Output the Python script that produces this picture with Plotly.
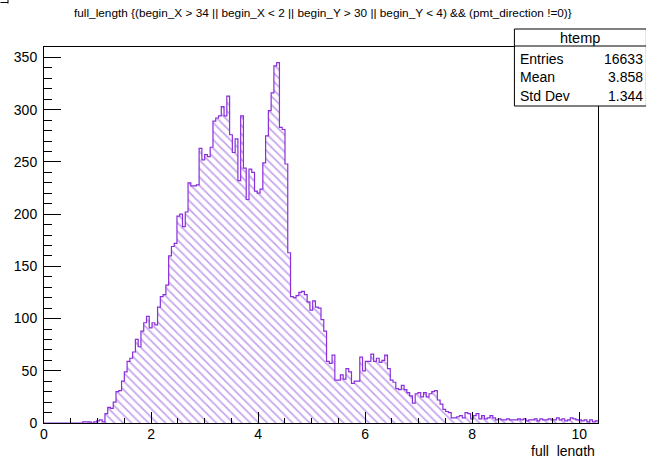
import numpy as np
import plotly.graph_objects as go

# ---- histogram definition (htemp: 200 bins over the full_length range) ----
x_min, x_max, n_bins = 0.0, 10.35, 200

counts = (
    [0] * 14
    + [1, 1, 1, 0, 1, 2, 3, 1]                                   # 14-21
    + [9, 15, 14, 20, 30, 31, 40, 49, 59, 62]                    # 22-31
    + [68, 80, 73, 88, 96, 102, 91, 96, 94, 111]                 # 32-41
    + [121, 123, 132, 160, 169, 172, 198, 200, 188, 202]         # 42-51
    + [230, 227, 227, 228, 263, 252, 257, 255, 264, 289]         # 52-61
    + [292, 294, 303, 294, 313, 276, 259, 272, 232, 294]         # 62-71
    + [244, 214, 243, 240, 222, 220, 224, 249, 275, 299]         # 72-81
    + [316, 342, 345, 283, 281, 248, 163, 121, 120, 122]         # 82-91
    + [125, 126, 123, 116, 108, 117, 111, 110, 99, 88]           # 92-101
    + [59, 57, 65, 41, 41, 46, 42, 52, 49, 38]                   # 102-111
    + [40, 40, 63, 50, 59, 59, 66, 59, 62, 58]                   # 112-121
    + [60, 65, 52, 41, 39, 33, 32, 36, 32, 29]                   # 122-131
    + [26, 19, 28, 29, 25, 29, 25, 28, 30, 31]                   # 132-141
    + [22, 18, 13, 11, 10, 5, 5, 6, 7, 5]                        # 142-151
    + [10, 9, 4, 7, 9, 4, 7, 4, 5, 7]                            # 152-161
    + [5, 3, 4, 3, 3, 4, 3, 3, 3, 4]                             # 162-171
    + [3, 4, 2, 3, 3, 4, 2, 4, 3, 3]                             # 172-181
    + [4, 3, 3, 5, 3, 4, 2, 3, 5, 4]                             # 182-191
    + [3, 3, 2, 3, 1, 3, 1, 2]                                   # 192-199
)

x_ticks = [0, 2, 4, 6, 8, 10]
y_range = [0, 360]

title_text = ("full_length {(begin_X > 34 || begin_X < 2 || begin_Y > 30 || "
              "begin_Y < 4) && (pmt_direction !=0)}")
x_title = "full_length"
stat_header = "htemp"
stat_names = ["Entries", "Mean", "Std Dev"]
stat_values = ["16633", "3.858", "1.344"]

# ---- styling ----
W, H = 646, 456
L, R, T, B = 43.5, 597.6, 47.0, 423.0
FONT = "Liberation Sans, Arial, Helvetica, sans-serif"
LINE = "#8a2fdc"
HATCH = "#8f4bdb"


def px(x):
    return (x - L) / (R - L)


def py(y):
    return (B - y) / (B - T)


edges = np.linspace(x_min, x_max, n_bins + 1)
step_y = list(counts) + [counts[-1]]

fig = go.Figure()
fig.add_trace(go.Scatter(
    x=edges, y=step_y, mode="lines",
    line=dict(shape="hv", color=LINE, width=1.2),
    fill="tozeroy", fillcolor="rgba(255,255,255,0)",
    fillpattern=dict(shape="\\", fgcolor=HATCH, bgcolor="rgba(255,255,255,0)",
                     size=6, solidity=0.3),
    hoverinfo="skip", showlegend=False,
))

axis_common = dict(
    showline=True, linecolor="black", linewidth=1, mirror=True,
    showgrid=False, zeroline=False, ticks="inside", tickcolor="black",
    tickwidth=1, tickfont=dict(family=FONT, size=14, color="black"),
)

fig.update_xaxes(range=[x_min, x_max], tickmode="array", tickvals=x_ticks,
                 ticklen=11, ticklabelstandoff=-2,
                 minor=dict(dtick=0.5, tick0=0, ticks="inside", ticklen=5.5,
                            tickcolor="black", tickwidth=1, showgrid=False),
                 **axis_common)
fig.update_yaxes(range=y_range, tickmode="linear", tick0=0, dtick=50,
                 ticklen=16.6, ticklabelstandoff=3,
                 minor=dict(dtick=10, tick0=0, ticks="inside", ticklen=8.3,
                            tickcolor="black", tickwidth=1, showgrid=False),
                 **axis_common)

shapes = [
    # statistics box and its header separator
    dict(type="rect", xref="paper", yref="paper",
         x0=px(514), x1=px(646), y0=py(106), y1=py(29),
         line=dict(color="black", width=1), fillcolor="white", layer="above"),
    dict(type="line", xref="paper", yref="paper",
         x0=px(514), x1=px(646), y0=py(46), y1=py(46),
         line=dict(color="black", width=1), layer="above"),
    # small corner mark at the canvas edge
    dict(type="line", xref="paper", yref="paper",
         x0=px(0), x1=px(7.5), y0=py(2.5), y1=py(2.5),
         line=dict(color="black", width=1), layer="above"),
    dict(type="line", xref="paper", yref="paper",
         x0=px(7.5), x1=px(7.5), y0=py(0), y1=py(3.5),
         line=dict(color="black", width=1), layer="above"),
]

annotations = [
    dict(text=title_text, xref="paper", yref="paper", x=px(323), y=py(13.5),
         xanchor="center", yanchor="middle", showarrow=False,
         font=dict(family=FONT, size=11.8, color="black")),
    dict(text=x_title, xref="paper", yref="paper", x=px(597), y=py(450.5),
         xanchor="right", yanchor="middle", showarrow=False,
         font=dict(family=FONT, size=14, color="black")),
    dict(text=stat_header, xref="paper", yref="paper", x=px(580), y=py(38),
         xanchor="center", yanchor="middle", showarrow=False,
         font=dict(family=FONT, size=14.5, color="black")),
]
row_y = [58.5, 77.0, 95.5]
for name, val, yy in zip(stat_names, stat_values, row_y):
    annotations.append(dict(text=name, xref="paper", yref="paper", x=px(518),
                            y=py(yy), xanchor="left", yanchor="middle",
                            showarrow=False,
                            font=dict(family=FONT, size=14, color="black")))
    annotations.append(dict(text=val, xref="paper", yref="paper", x=px(645),
                            y=py(yy), xanchor="right", yanchor="middle",
                            showarrow=False,
                            font=dict(family=FONT, size=14, color="black")))

fig.update_layout(
    width=W, height=H,
    margin=dict(l=L, r=W - R, t=T, b=H - B, pad=0),
    paper_bgcolor="white", plot_bgcolor="white",
    shapes=shapes, annotations=annotations, showlegend=False,
)

fig.write_html("out.html")
